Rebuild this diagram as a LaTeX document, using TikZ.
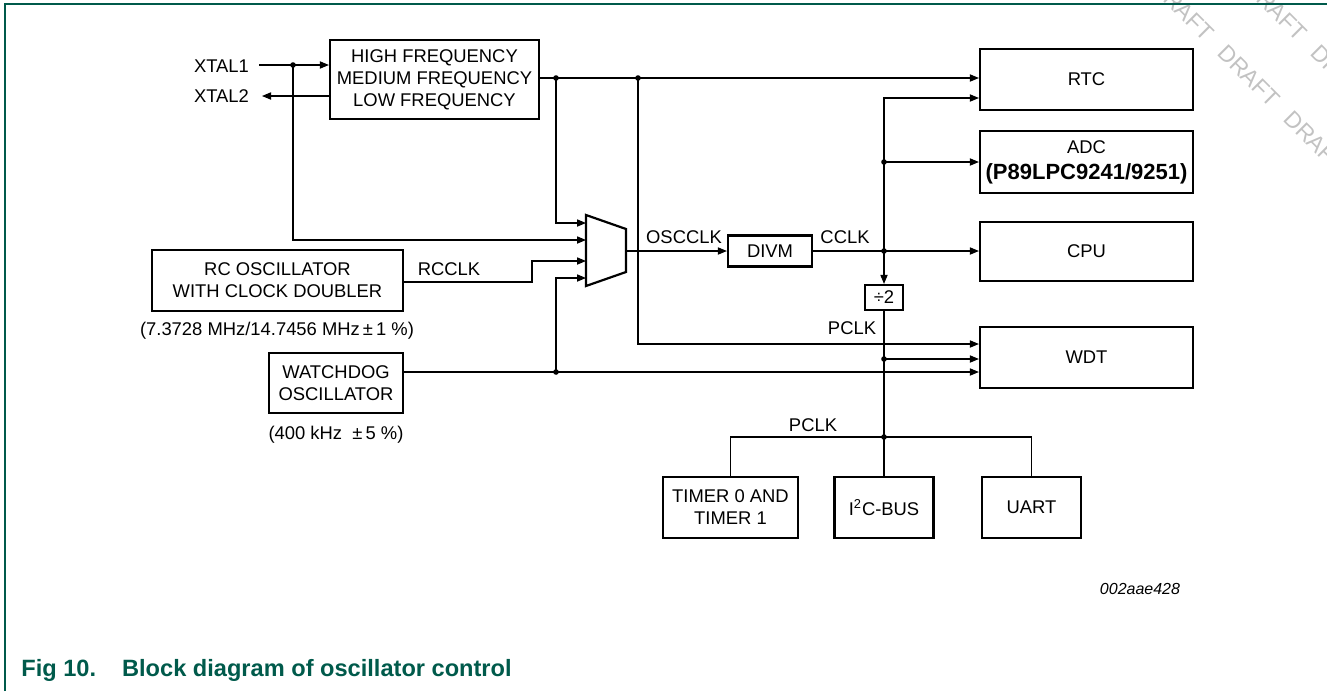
\documentclass[tikz,border=0pt]{standalone}
\usepackage{fontspec}
\setmainfont{Liberation Sans}
\usetikzlibrary{arrows.meta}
\definecolor{nxpgreen}{HTML}{005A4B}
\begin{document}
\begin{tikzpicture}[x=0.5pt,y=-0.5pt,
  font=\fontsize{9.2}{11}\selectfont,
  box/.style={draw,line width=1.1pt,inner sep=0pt,align=center},
  wire/.style={line width=0.55pt},
  arr/.style={wire,-{Triangle[length=4.5pt,width=3.6pt]}},
  lbl/.style={inner sep=0pt,align=center},
  dot/.style={circle,fill,inner sep=0pt,minimum size=2.8pt},
  wm/.style={text=black!24,font=\fontsize{11.5}{13}\selectfont,rotate=-45,anchor=base west,inner sep=0pt}
]
\useasboundingbox (0,0) rectangle (1327,691);
% watermark
\begin{scope}
\clip (0,0) rectangle (1327,691);
\foreach \k in {0,1,2}{
  \node[wm] at (1150+66*\k,-12+66*\k) {DRAFT};
  \node[wm] at (1243+66*\k,-12+66*\k) {DRAFT};
}
\end{scope}
% frame
\draw[nxpgreen,line width=0.8pt] (5,691) -- (5,4) -- (1327,4);

% blocks
\node[box,minimum width=104.5pt,minimum height=39.5pt] (hf) at (434.5,79.5) {HIGH FREQUENCY\\MEDIUM FREQUENCY\\LOW FREQUENCY};
\node[box,minimum width=125.5pt,minimum height=30.5pt] (rc) at (277.5,280.5) {RC OSCILLATOR\\WITH CLOCK DOUBLER};
\node[box,minimum width=67pt,minimum height=30pt] (wd) at (336,383) {WATCHDOG\\OSCILLATOR};
\node[box,minimum width=42pt,minimum height=15.5pt] (divm) at (770,251) {DIVM};
\node[box,minimum width=19pt,minimum height=12.5pt] (div2) at (884,297.5) {÷2};
\node[box,minimum width=106.5pt,minimum height=30.5pt] (rtc) at (1086.5,79.5) {RTC};
\node[box,minimum width=106.5pt,minimum height=31pt] (adc) at (1086.5,162) {ADC\\[2pt]{\fontsize{11}{12}\selectfont\bfseries (P89LPC9241/9251)}};
\node[box,minimum width=106.5pt,minimum height=29.5pt] (cpu) at (1086.5,251.5) {CPU};
\node[box,minimum width=106.5pt,minimum height=30.5pt] (wdt) at (1086.5,357.5) {WDT};
\node[box,minimum width=67.5pt,minimum height=30.5pt] (timer) at (730.5,507.5) {TIMER 0 AND\\TIMER 1};
\node[box,minimum width=49.5pt,minimum height=30.5pt] (i2c) at (884,507.5) {I\textsuperscript{2}C-BUS};
\node[box,minimum width=49.5pt,minimum height=30.5pt] (uart) at (1031.5,507.5) {UART};

% labels
\node[lbl] (xtal1) at (221.5,66) {XTAL1};
\node[lbl] (xtal2) at (221.5,96) {XTAL2};
\node[lbl] (osc) at (684,237) {OSCCLK};
\node[lbl] (cclk) at (845,237) {CCLK};
\node[lbl] (rcclk) at (449,269) {RCCLK};
\node[lbl] (pclk1) at (852,328) {PCLK};
\node[lbl] (pclk2) at (813,425) {PCLK};
\node[lbl] (f1) at (277,331) {(7.3728 MHz/14.7456 MHz\,±\,1 \%)};
\node[lbl] (f2) at (336,435) {(400 kHz \ ±\,5 \%)};
\node[lbl,font=\fontsize{8}{9}\selectfont\itshape] (code) at (1140,589) {002aae428};
\node[lbl,anchor=west,text=nxpgreen,font=\fontsize{11.8}{13}\selectfont\bfseries] (cap) at (21,670) {Fig 10.\hspace{13pt}Block diagram of oscillator control};

% multiplexer
\coordinate (m1) at (586,215);
\coordinate (m2) at (626,229);
\coordinate (m3) at (626,272);
\coordinate (m4) at (586,286);
\draw[line width=1.1pt,line join=miter] (m1) -- (m2) -- (m3) -- (m4) -- cycle;
\coordinate (mo) at (626,251);
\coordinate (mi1) at (586,223);
\coordinate (mi2) at (586,240);
\coordinate (mi3) at (586,261);
\coordinate (mi4) at (586,278);

% junction points
\coordinate (x1s) at (259,65);
\coordinate (x2e) at (262,96);
\coordinate (j1) at (293,65);
\coordinate (j2) at (556,78);
\coordinate (j3) at (638,78);
\coordinate (j4) at (884,251);
\coordinate (j5) at (884,162);
\coordinate (j6) at (884,359);
\coordinate (j7) at (884,437);
\coordinate (j8) at (556,372);
\coordinate (c1) at (884,98);
\coordinate (rcb) at (532,282);
\coordinate (w1) at (981,344);

% connectors
\draw[arr] (x1s) -- (hf.west |- x1s);
\draw[arr] (hf.west |- x2e) -- (x2e);
\draw[arr] (j1) |- (mi2);
\draw[wire] (hf.east |- j2) -- (j2) -- (j3);
\draw[arr] (j3) -- (rtc.west |- j3);
\draw[arr] (j2) |- (mi1);
\draw[arr] (j3) |- (wdt.west |- w1);
\draw[arr] (rc.east |- rcb) -- (rcb) |- (mi3);
\draw[wire] (wd.east |- j8) -- (j8);
\draw[arr] (j8) -- (wdt.west |- j8);
\draw[arr] (j8) |- (mi4);
\draw[arr] (mo) -- (divm.west);
\draw[wire] (divm.east) -- (j4);
\draw[arr] (j4) -- (cpu.west |- j4);
\draw[arr] (j4) -- (c1) -- (rtc.west |- c1);
\draw[arr] (j5) -- (adc.west |- j5);
\draw[arr] (j4) -- (div2.north);
\draw[wire] (div2.south) -- (j7);
\draw[arr] (j6) -- (wdt.west |- j6);
\draw[wire] (timer.north) |- (j7) -| (uart.north);
\draw[wire] (j7) -- (i2c.north);

% dots
\foreach \p in {j1,j2,j3,j4,j5,j6,j7,j8} \node[dot] at (\p) {};
\end{tikzpicture}
\end{document}
